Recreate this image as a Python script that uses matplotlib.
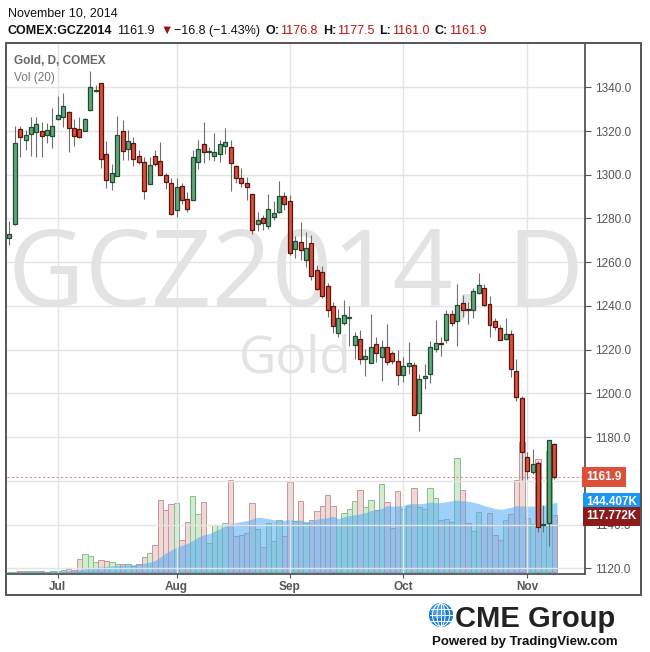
import matplotlib
matplotlib.use("Agg")
import numpy as np
import pandas as pd
import matplotlib.pyplot as plt
from matplotlib.patches import Rectangle, Circle
from matplotlib.transforms import blended_transform_factory

# Gold (GCZ2014) daily bars, 18 Jun - 10 Nov 2014
opens = [1271.3, 1277.6, 1320.7, 1315.7, 1318.6, 1319.5, 1320.0, 1318.3, 1317.5, 1325.3,
         1326.2, 1328.5, 1321.5, 1320.7, 1320.1, 1329.4, 1338.3, 1341.8, 1309.7, 1296.6,
         1299.6, 1320.1, 1311.6, 1314.3, 1308.7, 1305.9, 1295.7, 1308.7, 1306.1, 1300.1,
         1296.4, 1283.7, 1294.9, 1288.8, 1288.3, 1305.9, 1313.9, 1310.2, 1308.7, 1309.3,
         1313.1, 1312.9, 1303.8, 1298.4, 1296.4, 1291.4, 1277.6, 1280.4, 1276.5, 1280.7,
         1283.0, 1290.2, 1287.9, 1266.2, 1269.3, 1261.2, 1268.8, 1256.6, 1255.7, 1249.3,
         1240.1, 1227.7, 1232.3, 1234.6, 1222.2, 1225.0, 1215.8, 1213.8, 1222.7, 1216.5,
         1221.4, 1218.5, 1215.0, 1208.4, 1212.7, 1213.2, 1191.0, 1206.9, 1208.9, 1220.4,
         1223.1, 1224.2, 1236.4, 1232.9, 1241.5, 1238.7, 1238.3, 1246.1, 1248.3, 1241.0,
         1232.9, 1230.0, 1225.0, 1227.2, 1210.4, 1198.0, 1170.9, 1164.0, 1168.1, 1140.0,
         1140.7, 1176.8]
highs = [1279.0, 1322.3, 1322.3, 1320.5, 1326.2, 1326.2, 1324.2, 1323.5, 1330.4, 1336.0,
         1337.2, 1329.0, 1325.3, 1326.2, 1326.0, 1347.5, 1341.0, 1342.0, 1315.4, 1305.1,
         1327.0, 1325.0, 1320.4, 1317.1, 1311.3, 1308.2, 1308.2, 1311.3, 1315.1, 1300.6,
         1298.3, 1298.3, 1296.0, 1292.1, 1311.3, 1315.8, 1324.2, 1312.5, 1319.0, 1315.8,
         1321.2, 1316.1, 1304.4, 1303.3, 1299.0, 1291.4, 1283.0, 1281.7, 1291.4, 1288.0,
         1297.2, 1292.0, 1290.6, 1271.9, 1278.5, 1273.9, 1272.4, 1258.6, 1258.1, 1250.5,
         1241.8, 1238.7, 1242.5, 1239.8, 1228.3, 1228.8, 1220.4, 1236.4, 1226.0, 1224.5,
         1231.8, 1219.6, 1220.0, 1216.5, 1223.4, 1214.3, 1208.9, 1213.5, 1223.8, 1233.4,
         1225.7, 1238.0, 1238.0, 1249.9, 1245.1, 1241.8, 1248.3, 1255.1, 1249.9, 1244.4,
         1234.6, 1231.1, 1234.6, 1229.2, 1215.8, 1199.0, 1173.1, 1174.6, 1168.9, 1148.8,
         1178.9, 1177.5]
lows = [1268.0, 1276.9, 1307.9, 1311.3, 1308.5, 1308.0, 1308.2, 1314.6, 1312.3, 1325.0,
        1322.0, 1310.5, 1313.0, 1317.0, 1320.0, 1329.0, 1338.0, 1303.3, 1294.1, 1292.9,
        1299.3, 1306.7, 1306.7, 1303.9, 1305.1, 1288.8, 1295.7, 1303.9, 1300.1, 1293.7,
        1281.4, 1280.7, 1286.8, 1283.0, 1288.3, 1302.8, 1305.4, 1306.7, 1306.4, 1305.9,
        1309.7, 1292.6, 1296.4, 1294.4, 1288.6, 1273.0, 1274.3, 1274.6, 1275.3, 1279.4,
        1282.5, 1284.0, 1263.2, 1261.7, 1261.2, 1257.8, 1252.0, 1247.1, 1243.8, 1234.9,
        1227.6, 1225.7, 1231.5, 1221.6, 1215.8, 1213.5, 1208.1, 1213.8, 1214.3, 1205.8,
        1213.2, 1213.5, 1203.9, 1205.4, 1208.9, 1190.0, 1182.6, 1202.0, 1204.6, 1218.8,
        1217.3, 1223.0, 1231.0, 1221.9, 1234.9, 1231.8, 1234.6, 1245.3, 1239.8, 1225.7,
        1228.8, 1224.2, 1224.5, 1207.7, 1196.7, 1160.6, 1161.0, 1163.0, 1136.8, 1136.8,
        1130.0, 1161.0]
closes = [1272.7, 1314.3, 1317.1, 1318.3, 1321.7, 1323.0, 1317.5, 1320.3, 1322.1, 1327.2,
          1331.3, 1321.2, 1317.7, 1317.1, 1325.3, 1340.0, 1338.8, 1307.4, 1297.8, 1300.6,
          1318.0, 1310.8, 1315.4, 1307.4, 1305.9, 1292.4, 1304.5, 1305.1, 1300.1, 1296.6,
          1282.2, 1294.4, 1288.3, 1284.5, 1307.9, 1312.0, 1310.5, 1310.6, 1310.2, 1313.9,
          1315.2, 1305.4, 1298.7, 1296.0, 1294.6, 1274.9, 1279.4, 1277.9, 1284.5, 1282.7,
          1290.2, 1286.8, 1264.4, 1269.8, 1265.8, 1266.7, 1253.9, 1247.9, 1244.4, 1238.3,
          1230.9, 1234.6, 1236.0, 1235.1, 1226.3, 1215.8, 1217.3, 1221.4, 1218.5, 1221.4,
          1214.3, 1214.7, 1208.4, 1212.7, 1213.9, 1190.2, 1206.6, 1208.1, 1221.4, 1223.1,
          1222.7, 1236.4, 1232.1, 1240.6, 1238.3, 1238.0, 1246.7, 1249.4, 1240.6, 1231.4,
          1230.3, 1224.5, 1227.2, 1211.2, 1198.2, 1173.0, 1164.7, 1167.6, 1139.1, 1140.3,
          1178.7, 1161.9]
# volume in thousands of contracts
volumes = [2, 2, 4, 3, 4, 4, 3, 2, 3, 3, 5, 7, 5, 27, 38, 34, 21, 25, 24, 21,
           17, 17, 17, 14, 17, 32, 40, 57, 150, 129, 142, 143, 67, 105, 158, 120, 146, 60, 98, 98,
           102, 191, 76, 78, 82, 143, 90, 52, 102, 65, 109, 76, 187, 106, 148, 103, 109, 126, 138, 159,
           138, 97, 122, 131, 148, 171, 136, 150, 128, 183, 146, 91, 169, 130, 137, 175, 136, 130, 175, 153,
           108, 111, 104, 237, 171, 102, 85, 124, 97, 122, 78, 67, 109, 120, 190, 270, 113, 101, 235, 101,
           250, 117.772]
# Vol (20) average as drawn
vol_ma = [1.5, 1.5, 1.8, 2.0, 2.2, 2.4, 2.5, 2.6, 2.7, 2.8,
          3.2, 3.8, 4.2, 5.5, 7.5, 9.0, 10.0, 11.5, 12.5, 13.5,
          14.5, 15.5, 16.0, 16.5, 17.5, 19.0, 21.0, 25.0, 32.0, 40.0,
          46.0, 52.0, 56.0, 60.0, 66.0, 73.0, 78.0, 80.0, 85.0, 90.0,
          96.0, 100.0, 103.0, 105.0, 107.0, 110.0, 114.0, 113.0, 111.0, 109.0,
          107.0, 108.0, 109.0, 108.0, 108.0, 105.0, 106.0, 110.0, 112.0, 113.0,
          116.0, 111.0, 115.0, 117.0, 119.0, 121.0, 123.0, 128.0, 130.0, 132.0,
          138.0, 137.0, 137.0, 138.0, 142.0, 142.0, 142.0, 143.0, 145.0, 144.0,
          144.0, 146.0, 148.0, 149.0, 148.0, 147.0, 145.0, 142.0, 138.0, 135.0,
          132.0, 130.0, 132.0, 135.0, 138.0, 137.0, 137.0, 137.0, 137.0, 138.0,
          140.0, 144.407]

dates = pd.bdate_range("2014-06-18", "2014-11-10", freq="C",
                       holidays=["2014-07-04", "2014-09-01"])
price_ticks = np.arange(1120, 1341, 20)

W, H = 650, 652
fig = plt.figure(figsize=(W / 100, H / 100), dpi=100)
fig.patch.set_facecolor("white")


def fx(px):
    return px / W


def fy(py):
    return 1 - py / H


rect = [fx(7), fy(574), fx(585) - fx(7), fy(44) - fy(574)]
x = np.arange(len(closes))
o = np.array(opens)
c = np.array(closes)
up = c >= o

# volume pane (bottom layer)
vax = fig.add_axes(rect)
vax.set_xlim(-0.43, 106.7)
vax.set_ylim(-3.1, 1090)
vax.axis("off")
vcol = np.where(up, "#d3ead3", "#eed8d8")
vedge = np.where(up, "#86c286", "#c89696")
vax.bar(x, volumes, width=1.0, color=vcol, edgecolor=vedge, linewidth=0.7, zorder=1)
xs = np.concatenate([[-0.43], x, [x[-1] + 0.5]])
ys = np.concatenate([[vol_ma[0]], vol_ma, [vol_ma[-1]]])
vax.fill_between(xs, 0, ys, color="#50aaf5", alpha=0.55, linewidth=0, zorder=2)

# watermark
vax.text(0.5, 0.558, "GCZ2014, D", transform=vax.transAxes, ha="center", va="center",
         fontsize=76, color="#e3e3e3", family="Open Sans", zorder=0)
vax.text(0.498, 0.405, "Gold", transform=vax.transAxes, ha="center", va="center",
         fontsize=37, color="#e3e3e3", family="Open Sans", zorder=0)

# price pane on top
ax = fig.add_axes(rect, facecolor="none")
ax.set_xlim(-0.43, 106.7)
ax.set_ylim(1117.4, 1359.8)
month_pos = [i for i in range(1, len(dates)) if dates[i].month != dates[i - 1].month]
ax.set_xticks(month_pos)
ax.set_xticklabels([dates[i].strftime("%b") for i in month_pos],
                   fontsize=8.5, fontweight="bold", color="#555555", family="Liberation Sans")
ax.set_yticks(price_ticks)
# the 1160 label sits under the last-price box
ax.set_yticklabels(["" if v == 1160 else f"{v:.1f}" for v in price_ticks], fontsize=8.5,
                   color="#555555", family="Liberation Sans")
ax.yaxis.tick_right()
ax.tick_params(axis="y", length=4, color="#555555", pad=3)
ax.tick_params(axis="x", length=3, color="#555555", pad=2)
ax.grid(True, color="#e4e4e4", linewidth=1.0, zorder=0)
ax.set_axisbelow(True)
for side in ["left", "top"]:
    ax.spines[side].set_visible(False)
for side in ["right", "bottom"]:
    ax.spines[side].set_color("#555555")
    ax.spines[side].set_linewidth(1.3)

ax.vlines(x, lows, highs, color="#6f6f6f", linewidth=0.8, zorder=3)
body = np.maximum(np.abs(c - o), 0.45)
ax.bar(x, body, bottom=np.minimum(o, c), width=0.74,
       color=np.where(up, "#63a57d", "#d6503c"),
       edgecolor=np.where(up, "#1f4d32", "#5a1410"), linewidth=0.9, zorder=4)

ax.axhline(closes[-1], color="#e58b8b", linestyle=(0, (2, 2)), linewidth=0.8, zorder=2)

# right-hand value labels (drawn in the top axes so they cover tick labels)
ax.text(1.002, closes[-1], f"{closes[-1]:.1f}", transform=ax.get_yaxis_transform(),
        ha="left", va="center", fontsize=8.5, fontweight="bold", color="white",
        family="Liberation Sans", zorder=10,
        bbox=dict(boxstyle="square,pad=0.35", fc="#dc503a", ec="none"), clip_on=False)
vol_tr = blended_transform_factory(ax.transAxes, vax.transData)
ax.text(1.002, vol_ma[-1], "144.407K", transform=vol_tr,
        ha="left", va="center", fontsize=8.5, fontweight="bold", color="white",
        family="Liberation Sans", zorder=10,
        bbox=dict(boxstyle="square,pad=0.3", fc="#1a96f5", ec="none"), clip_on=False)
ax.text(1.002, volumes[-1] - 2, "117.772K", transform=vol_tr,
        ha="left", va="center", fontsize=8.5, fontweight="bold", color="white",
        family="Liberation Sans", zorder=10,
        bbox=dict(boxstyle="square,pad=0.3", fc="#8c1c1c", ec="none"), clip_on=False)

# chart frame
fig.patches.append(Rectangle((fx(6), fy(595)), fx(641) - fx(6), fy(43) - fy(595),
                             transform=fig.transFigure, fill=False, ec="#555555", lw=1.4))

fig.text(fx(14), fy(64), "Gold, D, COMEX", fontsize=8.5, fontweight="bold", color="#666666",
         family="Liberation Sans")
fig.text(fx(14), fy(81), "Vol (20)", fontsize=8.5, color="#777777", family="Liberation Sans")

# header
fig.text(fx(8), fy(17), "November 10, 2014", fontsize=9, color="#111111", family="Liberation Sans")
segments = [
    ("COMEX:GCZ2014", "bold", "#111111", 5),
    ("1161.9", "normal", "#111111", 5),
    ("\u25bc", "normal", "#a01010", 2),
    ("\u221216.8 (\u22121.43%)", "normal", "#111111", 5),
    ("O:", "bold", "#111111", 1),
    ("1176.8", "normal", "#c01010", 5),
    ("H:", "bold", "#111111", 1),
    ("1177.5", "normal", "#c01010", 5),
    ("L:", "bold", "#111111", 1),
    ("1161.0", "normal", "#c01010", 5),
    ("C:", "bold", "#111111", 1),
    ("1161.9", "normal", "#c01010", 0),
]
renderer = fig.canvas.get_renderer()
cur = 8
for txt, wt, col, gap in segments:
    t = fig.text(fx(cur), fy(34), txt, fontsize=9, fontweight=wt, color=col,
                 family=["Liberation Sans", "DejaVu Sans"])
    cur = t.get_window_extent(renderer).x1 + gap

# CME Group logo
lax = fig.add_axes([fx(429), fy(627), fx(24), 24 / H])
lax.set_xlim(-1.05, 1.05)
lax.set_ylim(-1.05, 1.05)
lax.set_aspect("equal")
lax.axis("off")
lax.add_patch(Circle((0, 0), 1, color="#1c7fd2"))
lax.add_patch(Circle((-0.25, 0.3), 0.55, color="#5fb4f0", alpha=0.6))
tt = np.linspace(-1, 1, 50)
for yy in (-0.5, 0, 0.5):
    half = np.sqrt(1 - yy ** 2)
    lax.plot([-half, half], [yy, yy], color="white", lw=0.7)
for k in (0.35, 0.75):
    lax.plot(k * np.sqrt(1 - tt ** 2), tt, color="white", lw=0.7)
    lax.plot(-k * np.sqrt(1 - tt ** 2), tt, color="white", lw=0.7)
lax.plot([0, 0], [-1, 1], color="white", lw=0.7)

fig.text(fx(455), fy(627), "CME Group", fontsize=21, fontweight="bold", color="#222222",
         family="Liberation Sans")
fig.text(fx(432), fy(645), "Powered by TradingView.com", fontsize=9.5, fontweight="bold",
         color="#111111", family="Liberation Sans")

fig.savefig("out.png", dpi=100)
